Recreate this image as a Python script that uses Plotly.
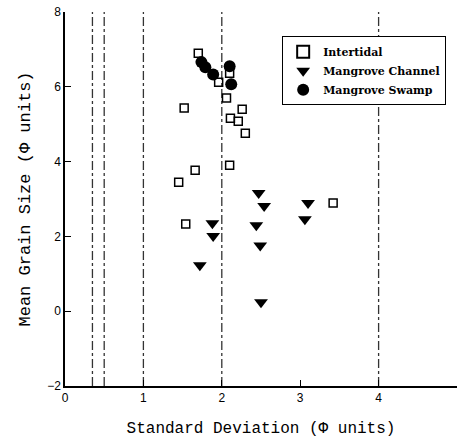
import plotly.graph_objects as go

# Data
inter_sd = [1.70, 2.10, 1.96, 2.06, 1.52, 2.26, 2.11, 2.21, 2.30, 1.66, 1.45, 2.10, 1.54, 3.42]
inter_mean = [6.90, 6.36, 6.12, 5.70, 5.43, 5.40, 5.16, 5.08, 4.76, 3.77, 3.45, 3.90, 2.33, 2.89]

chan_sd = [1.88, 1.89, 1.72, 2.47, 2.54, 3.10, 2.44, 3.06, 2.49, 2.50]
chan_mean = [2.35, 2.01, 1.23, 3.16, 2.81, 2.89, 2.30, 2.46, 1.76, 0.24]

swamp_sd = [1.74, 1.79, 1.89, 2.10, 2.12]
swamp_mean = [6.66, 6.52, 6.33, 6.55, 6.07]

ref_lines = [0.35, 0.5, 1.0, 2.0, 4.0]
x_ticks = [0, 1, 2, 3, 4, 5]
y_ticks = [-2, 0, 2, 4, 6, 8]

mono = "Liberation Mono"
fig = go.Figure()

fig.add_trace(go.Scatter(x=inter_sd, y=inter_mean, mode="markers", name="<b>Intertidal</b>",
                         marker=dict(symbol="square-open", size=8, color="black", line=dict(width=1.5))))
fig.add_trace(go.Scatter(x=chan_sd, y=chan_mean, mode="markers", name="<b>Mangrove Channel</b>",
                         marker=dict(symbol="triangle-down", size=12, color="black")))
fig.add_trace(go.Scatter(x=swamp_sd, y=swamp_mean, mode="markers", name="<b>Mangrove Swamp</b>",
                         marker=dict(symbol="circle", size=12, color="black")))

for xv in ref_lines:
    fig.add_shape(type="line", x0=xv, x1=xv, y0=-2, y1=8, xref="x", yref="y",
                  line=dict(color="#333", width=1.3, dash="dashdot"), layer="below")

fig.update_layout(
    width=457, height=441,
    margin=dict(l=65, r=0, t=12, b=55),
    paper_bgcolor="white", plot_bgcolor="white",
    showlegend=True,
    legend=dict(x=0.554, y=0.935, xanchor="left", yanchor="top",
                bordercolor="black", borderwidth=1, bgcolor="white",
                font=dict(family="DejaVu Serif", size=11, color="black"),
                tracegroupgap=0, itemsizing="constant"),
    xaxis=dict(range=[0, 5], tickvals=x_ticks, showgrid=False, zeroline=False,
               showline=True, linecolor="black", linewidth=1.5,
               ticks="inside", ticklen=6, tickcolor="black",
               tickfont=dict(family="Liberation Sans", size=12, color="black"),
               title=dict(text="Standard Deviation (\u03a6 units)", standoff=18,
                          font=dict(family=mono, size=16, color="black")),
               automargin=False),
    yaxis=dict(range=[-2, 8], tickvals=y_ticks, showgrid=False, zeroline=False,
               showline=True, linecolor="black", linewidth=1.5,
               ticks="inside", ticklen=6, tickcolor="black",
               tickfont=dict(family="Liberation Sans", size=12, color="black"),
               title=dict(text="Mean Grain Size (\u03a6 units)", standoff=12,
                          font=dict(family=mono, size=17, color="black")),
               automargin=False),
)

fig.write_html("out.html")
